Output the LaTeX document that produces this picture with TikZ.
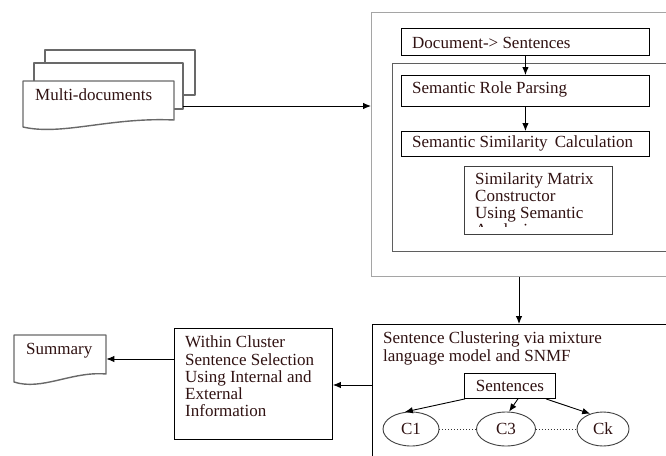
\documentclass[tikz,border=0pt]{standalone}
\usepackage{fontspec}
\setmainfont{Liberation Serif}
\usetikzlibrary{shapes.geometric,arrows.meta,calc}
\definecolor{txtc}{RGB}{48,18,18}
\definecolor{docg}{RGB}{105,105,105}
\definecolor{outg}{RGB}{165,165,165}
\definecolor{inng}{RGB}{95,95,95}
\begin{document}
\begin{tikzpicture}[x=1pt,y=-1pt,
  box/.style={draw=black, line width=0.9pt, fill=white, inner sep=0pt, anchor=north west},
  txt/.style={text=txtc, font=\fontsize{17}{17.2}\selectfont, inner sep=0pt, anchor=west, align=left},
  arr/.style={draw=black, line width=0.9pt, -{Latex[length=8pt,width=6.5pt]}},
  docshape/.style={draw=docg, line width=1.4pt, fill=white, line join=round},
  clnode/.style={draw=black!75, line width=0.9pt, ellipse, inner sep=0pt, fill=white, text=txtc, font=\fontsize{17}{17.2}\selectfont}
]
\useasboundingbox (0,0) rectangle (666,455);
\fill[white] (0,0) rectangle (666,455);
\begin{scope}
\clip (0,0) rectangle (666,455);

% large frames
\node[box, draw=outg, line width=1.2pt, minimum width=301pt, minimum height=264pt] (outer) at (371,12) {};
\node[box, draw=inng, line width=1.1pt, minimum width=280pt, minimum height=188pt] (inner) at (392,63) {};
\node[box, minimum width=300pt, minimum height=140pt] (clus) at (372,324) {};

% multi-documents stack
\draw[docshape] (45,50) -- (195,50) -- (195,95) -- (45,95) -- cycle;
\draw[docshape] (34,63) -- (183,63) -- (183,109) -- (34,109) -- cycle;
\draw[docshape] (23,81) -- (174,81) -- (174,120) .. controls (110,117) and (62,136) .. (23,127) -- cycle;
\node[inner sep=0pt, minimum width=151pt, minimum height=46pt, anchor=north west] (multi) at (23,81) {};
\node[txt] (multitxt) at (35,95) {Multi-documents};
\coordinate (mdr) at (183,106);

% inner boxes
\node[box, minimum width=248pt, minimum height=27pt] (ds) at (401,28) {};
\node[txt] (dstxt) at (412,42.5) {Document-> Sentences};
\node[box, minimum width=248pt, minimum height=31pt] (srp) at (401,75) {};
\node[txt] (srptxt) at (412,89) {Semantic Role Parsing};
\node[box, minimum width=248pt, minimum height=25pt] (ssc) at (401,131) {};
\node[txt] (ssctxt) at (412,143.5) {Semantic Similarity\, Calculation};
\node[box, draw=black!75, line width=1.1pt, minimum width=148pt, minimum height=68pt] (smc) at (464,166) {};
\begin{scope}
\clip (465,167) rectangle (611,226.5);
\node[txt, font=\fontsize{17}{17}\selectfont] (smctxt) at (475,205.5) {Similarity Matrix\\Constructor\\Using Semantic\\Analysis};
\end{scope}

% clustering box content
\node[txt] (clustxt) at (383,348.5) {Sentence Clustering via mixture\\language model and SNMF};
\node[box, minimum width=91pt, minimum height=25pt] (sent) at (464,373) {};
\node[txt, anchor=center] (senttxt) at (sent.center) {Sentences};
\node[clnode, minimum width=56pt, minimum height=34pt] (c1) at (411,429) {C1};
\node[clnode, minimum width=59pt, minimum height=34pt] (c3) at (506,429) {C3};
\node[clnode, minimum width=52pt, minimum height=34pt] (ck) at (603,429) {Ck};

% within cluster and summary
\node[box, minimum width=158pt, minimum height=111pt] (within) at (174,328) {};
\node[txt] (withintxt) at (185,376.5) {Within Cluster\\Sentence Selection\\Using Internal and\\External\\Information};
\draw[docshape] (14,335) -- (106,335) -- (106,374) .. controls (72,371) and (42,391) .. (14,382) -- cycle;
\node[inner sep=0pt, minimum width=92pt, minimum height=40pt, anchor=north west] (summary) at (14,335) {};
\node[txt] (sumtxt) at (26,350.5) {Summary};

% connectors
\coordinate (xa) at (519,0);
\coordinate (yb) at (0,385);
\coordinate (yc) at (0,359);
\draw[arr] (mdr) -- (outer.west |- mdr);
\draw[arr] (ds.south) -- (srp.north);
\draw[arr] (srp.south) -- (ssc.north);
\draw[arr] (outer.south -| xa) -- (clus.north -| xa);
\draw[arr] (clus.west |- yb) -- (within.east |- yb);
\draw[arr] (within.west |- yc) -- (summary.east |- yc);
\draw[arr] ($(sent.south west)+(1,0)$) -- (c1.110);
\draw[arr] ($(sent.south)+(8,0)$) -- (c3.80);
\draw[arr] ($(sent.south east)+(-10,0)$) -- (ck.130);
\draw[black!80, line width=0.8pt, dash pattern=on 1pt off 2pt] (c1.east) -- (c3.west);
\draw[black!80, line width=0.8pt, dash pattern=on 1pt off 2pt] (c3.east) -- (ck.west);
\end{scope}
\end{tikzpicture}
\end{document}
